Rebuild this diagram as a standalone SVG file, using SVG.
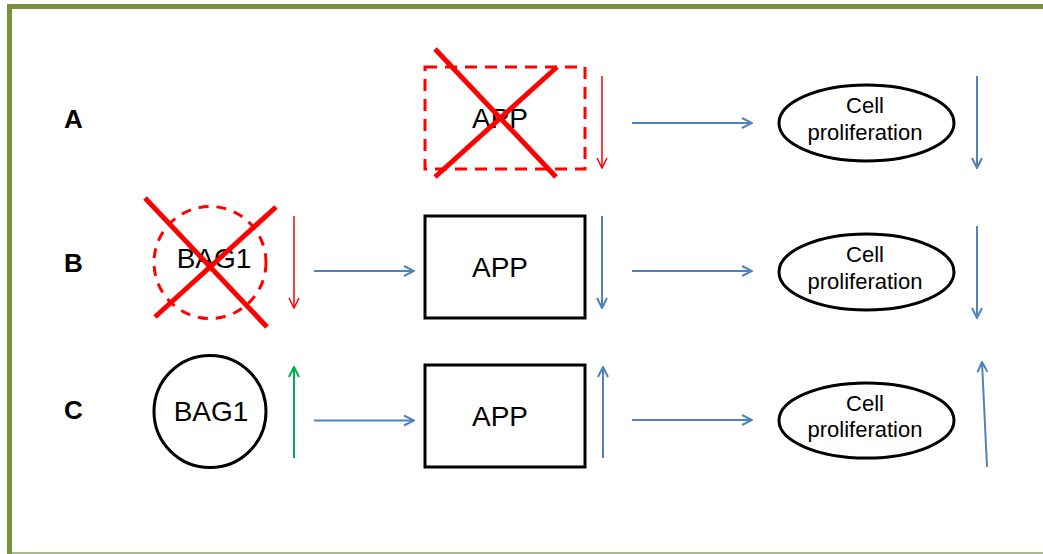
<svg xmlns="http://www.w3.org/2000/svg" width="1043" height="554" viewBox="0 0 1043 554">
<style>
.lbl{font-family:"Liberation Sans",Arial,sans-serif;font-weight:bold;font-size:26px;fill:#000}
.t{font-family:"Liberation Sans",Arial,sans-serif;font-size:28px;fill:#000;text-anchor:middle}
.ts{font-family:"Liberation Sans",Arial,sans-serif;font-size:22px;fill:#000;text-anchor:middle}
.box{fill:#fff;stroke:#000;stroke-width:3}
.dash{fill:none;stroke:#FF0000;stroke-width:3;stroke-dasharray:12,8}
.x{stroke:#FF0000;stroke-width:5;stroke-linecap:butt}
.blue{stroke:#4F81BD;stroke-width:2;fill:none;marker-end:url(#ab)}
.red{stroke:#FF0000;stroke-width:1.5;fill:none;marker-end:url(#ar)}
.green{stroke:#00B050;stroke-width:2;fill:none;marker-end:url(#ag)}
</style>
<defs>
<marker id="ab" viewBox="0 0 12 12" markerWidth="12" markerHeight="12" refX="11" refY="6" orient="auto" markerUnits="userSpaceOnUse"><path d="M1,1 L11,6 L1,11" fill="none" stroke="#4F81BD" stroke-width="2"/></marker>
<marker id="ar" viewBox="0 0 12 12" markerWidth="12" markerHeight="12" refX="11" refY="6" orient="auto" markerUnits="userSpaceOnUse"><path d="M1,1 L11,6 L1,11" fill="none" stroke="#FF0000" stroke-width="1.5"/></marker>
<marker id="ag" viewBox="0 0 12 12" markerWidth="12" markerHeight="12" refX="11" refY="6" orient="auto" markerUnits="userSpaceOnUse"><path d="M1,1 L11,6 L1,11" fill="none" stroke="#00B050" stroke-width="2"/></marker>
</defs>
<rect width="1043" height="554" fill="#fff"/>
<g id="frame">
<line x1="7" y1="6.5" x2="1043" y2="6.5" stroke="#77933C" stroke-width="5"/>
<line x1="9.5" y1="4" x2="9.5" y2="554" stroke="#77933C" stroke-width="5"/>
<line x1="12" y1="553" x2="1043" y2="553" stroke="#a9b98d" stroke-width="2"/>
</g>
<g id="labels">
<text class="lbl" x="64" y="128">A</text>
<text class="lbl" x="64" y="272">B</text>
<text class="lbl" x="64" y="419">C</text>
</g>
<g id="appA">
<rect class="dash" x="425" y="67" width="160" height="102"/>
<text class="t" x="500" y="128">APP</text>
<line class="x" x1="435" y1="49" x2="556" y2="177"/>
<line class="x" x1="557" y1="67" x2="435" y2="177"/>
</g>
<g id="cellA">
<ellipse class="box" cx="866.5" cy="123" rx="87.5" ry="38"/>
<text class="ts" x="865" y="113">Cell</text>
<text class="ts" x="865" y="140">proliferation</text>
</g>
<g id="bagB">
<circle cx="210" cy="262.5" r="56" fill="none" stroke="#FF0000" stroke-width="3" stroke-dasharray="10,8"/>
<text class="t" x="214" y="268">BAG1</text>
<line class="x" x1="145" y1="198" x2="267" y2="327"/>
<line class="x" x1="276" y1="207" x2="155" y2="317"/>
</g>
<g id="appB">
<rect class="box" x="425" y="216" width="160" height="102"/>
<text class="t" x="500" y="277">APP</text>
</g>
<g id="cellB">
<ellipse class="box" cx="866.5" cy="272" rx="87.5" ry="38"/>
<text class="ts" x="865" y="262">Cell</text>
<text class="ts" x="865" y="289">proliferation</text>
</g>
<g id="bagC">
<circle class="box" cx="210" cy="411.5" r="56"/>
<text class="t" x="211" y="421">BAG1</text>
</g>
<g id="appC">
<rect class="box" x="425" y="365" width="160" height="102"/>
<text class="t" x="500" y="426">APP</text>
</g>
<g id="cellC">
<ellipse class="box" cx="866.5" cy="420.5" rx="87.5" ry="37.5"/>
<text class="ts" x="865" y="411">Cell</text>
<text class="ts" x="865" y="437">proliferation</text>
</g>
<g id="connectors">
<line class="red" x1="602" y1="76" x2="602" y2="168"/>
<line class="blue" x1="632" y1="123" x2="752" y2="123"/>
<line class="blue" x1="977" y1="76" x2="977" y2="168"/>
<line class="red" x1="294" y1="216" x2="294" y2="308"/>
<line class="blue" x1="314" y1="271" x2="414" y2="271"/>
<line class="blue" x1="602" y1="216" x2="602" y2="308"/>
<line class="blue" x1="632" y1="271" x2="752" y2="271"/>
<line class="blue" x1="977" y1="226" x2="977" y2="318"/>
<line class="green" x1="294" y1="458" x2="294" y2="367"/>
<line class="blue" x1="314" y1="420.5" x2="414" y2="420.5"/>
<line class="blue" x1="603" y1="458" x2="603" y2="367"/>
<line class="blue" x1="632" y1="420" x2="752" y2="420"/>
<line class="blue" x1="987" y1="467" x2="982" y2="362"/>
</g>
</svg>
